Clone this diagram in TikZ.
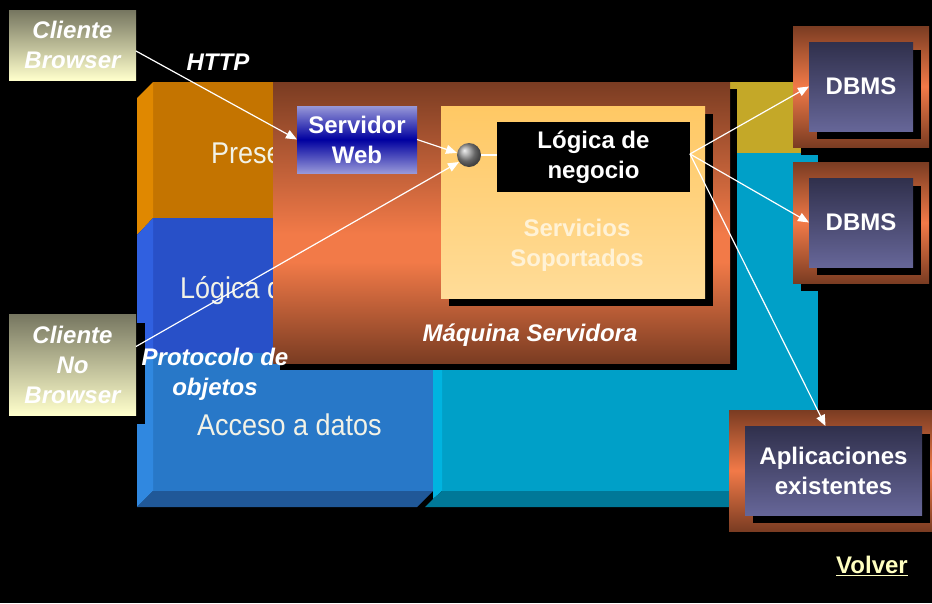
\documentclass[tikz,border=0pt]{standalone}
\usepackage{fontspec}
\setmainfont{Liberation Sans}
\usepackage{graphicx}
\usetikzlibrary{arrows.meta,calc,shadows}
\definecolor{brn}{HTML}{7A3C22}
\definecolor{org}{HTML}{F27A48}
\definecolor{goldL}{HTML}{C4A828}
\definecolor{cyanF}{HTML}{00A0C8}
\definecolor{cyanB}{HTML}{00B4E0}
\definecolor{cyanD}{HTML}{007898}
\definecolor{orgF}{HTML}{C47400}
\definecolor{orgB}{HTML}{E08800}
\definecolor{blOneF}{HTML}{2850C8}
\definecolor{blOneB}{HTML}{3060E0}
\definecolor{blTwoF}{HTML}{2878C8}
\definecolor{blTwoB}{HTML}{3088E0}
\definecolor{blTwoD}{HTML}{205898}
\definecolor{layertext}{HTML}{F2F2E6}
\definecolor{servtext}{HTML}{FFF2D6}
\definecolor{navyT}{HTML}{30304C}
\definecolor{navyB}{HTML}{666698}
\definecolor{lav}{HTML}{9898D8}
\definecolor{dkblue}{HTML}{0000A0}
\definecolor{olive}{HTML}{767660}
\definecolor{pale}{HTML}{FFFFCC}
\definecolor{servT}{HTML}{FFC864}
\definecolor{servB}{HTML}{FFDC98}
\definecolor{volv}{HTML}{FFFFC0}
\pgfdeclareverticalshading{machsh}{100bp}{color(0bp)=(brn); color(25bp)=(brn); color(43bp)=(org); color(48bp)=(org); color(75bp)=(brn); color(100bp)=(brn)}
\tikzset{
  lbl/.style={font=\bfseries\fontsize{24}{30}\selectfont, text=white, align=center, inner sep=0pt, outer sep=0pt},
  ilbl/.style={font=\bfseries\itshape\fontsize{24}{30}\selectfont, text=white, align=center, inner sep=0pt, outer sep=0pt},
  layertxt/.style={font=\fontsize{30}{36}\selectfont, text=layertext, inner sep=0pt, outer sep=0pt},
  plainbox/.style={inner sep=0pt, outer sep=0pt, draw=none},
  blackshadow/.style={drop shadow={shadow xshift=#1pt, shadow yshift=-#1pt, opacity=1, fill=black}},
  framebox/.style={plainbox, top color=brn, bottom color=brn, middle color=org, blackshadow=8},
  dbbox/.style={plainbox, lbl, top color=navyT, bottom color=navyB, blackshadow=8},
  clientbox/.style={plainbox, ilbl, top color=olive, bottom color=pale},
  conn/.style={draw=white, line width=1.2pt, -{Triangle[length=11pt,width=9pt]}}
}
\begin{document}
\begin{tikzpicture}[x=1pt,y=-1pt]
\useasboundingbox (0,0) rectangle (932,603);
\fill[black] (0,0) rectangle (932,603);
% background tiers
\fill[goldL] (600,82) rectangle (801,153);
\fill[cyanF] (442,153) rectangle (818,491);
\fill[cyanB] (433,360) -- (442,360) -- (442,491) -- (433,499) -- cycle;
\fill[cyanD] (442,491) -- (818,491) -- (810,507) -- (425,507) -- (433,499) -- cycle;
\fill[orgF] (153,82) rectangle (300,218);
\fill[orgB] (137,98) -- (153,82) -- (153,218) -- (137,235) -- cycle;
\fill[blOneF] (153,218) rectangle (433,353);
\fill[blOneB] (137,235) -- (153,218) -- (153,353) -- (137,370) -- cycle;
\fill[blTwoF] (153,353) rectangle (433,491);
\fill[blTwoB] (137,370) -- (153,353) -- (153,491) -- (137,507) -- cycle;
\fill[blTwoD] (153,491) -- (433,491) -- (417,507) -- (137,507) -- cycle;
\begin{scope}
\clip (137,82) rectangle (273,507);
\node[layertxt, anchor=base west] (tpres) at (211,163) {\scalebox{0.9}[1]{Presentación}};
\node[layertxt, anchor=base west] (tlog) at (180,298) {\scalebox{0.9}[1]{Lógica de negocio}};
\end{scope}
\node[layertxt, anchor=base west] (tacc) at (197,435) {\scalebox{0.9}[1]{Acceso a datos}};
% server machine
\node[plainbox, minimum width=457pt, minimum height=281pt, shade, shading=machsh, blackshadow=7] (mach) at (501.5,222.5) {};
\node[ilbl] (machlbl) at (530,335) {Máquina Servidora};
\node[plainbox, lbl, minimum width=120pt, minimum height=67pt, top color=lav, bottom color=lav, middle color=dkblue] (sw) at (357,139.5) {Servidor\\Web};
\node[plainbox, minimum width=264pt, minimum height=192pt, top color=servT, bottom color=servB, blackshadow=8] (serv) at (573,202) {};
\node[lbl, text=servtext] (servlbl) at (577,245.5) {Servicios\\Soportados};
\node[plainbox, lbl, fill=black, minimum width=193pt, minimum height=70pt] (logic) at (593.5,157) {Lógica de\\negocio};
\node[circle, inner sep=0pt, minimum size=24pt, ball color=gray!85] (sph) at (469,155) {};
% clients
\node[clientbox, minimum width=127pt, minimum height=70pt] (cb) at (72.5,45) {Cliente\\Browser};
\node[clientbox, minimum width=127pt, minimum height=101pt, blackshadow=9] (cnb) at (72.5,364.5) {Cliente\\No\\Browser};
% databases
\node[framebox, minimum width=136pt, minimum height=121pt] (db1f) at (861,86.5) {};
\node[dbbox, minimum width=104pt, minimum height=89pt] (db1) at (861,86.5) {DBMS};
\node[framebox, minimum width=136pt, minimum height=121pt] (db2f) at (861,222.5) {};
\node[dbbox, minimum width=104pt, minimum height=89pt] (db2) at (861,222.5) {DBMS};
\node[framebox, minimum width=203pt, minimum height=121pt] (appf) at (830.5,470.5) {};
\node[dbbox, minimum width=177pt, minimum height=89pt] (app) at (833.5,470.5) {Aplicaciones\\existentes};
% connectors
\draw[conn] ([yshift=-6pt]cb.east) -- (sw.west);
\draw[conn] (sw.east) -- (sph.170);
\draw[conn] ([yshift=18pt]cnb.east) -- (sph.215);
\draw[white, line width=1.6pt] (sph.east) -- (sph.east -| logic.west);
\draw[conn] ([yshift=3pt]logic.east) -- (db1.west);
\draw[conn] ([yshift=3pt]logic.east) -- (db2.west);
\draw[conn] ([yshift=3pt]logic.east) -- ([xshift=-8pt]app.north);
% labels
\node[ilbl] (http) at (218,62) {HTTP};
\node[ilbl] (proto) at (215,374) {Protocolo de\\objetos};
\node[lbl, text=volv] (volver) at (872,566) {\underline{Volver}};
\end{tikzpicture}
\end{document}
